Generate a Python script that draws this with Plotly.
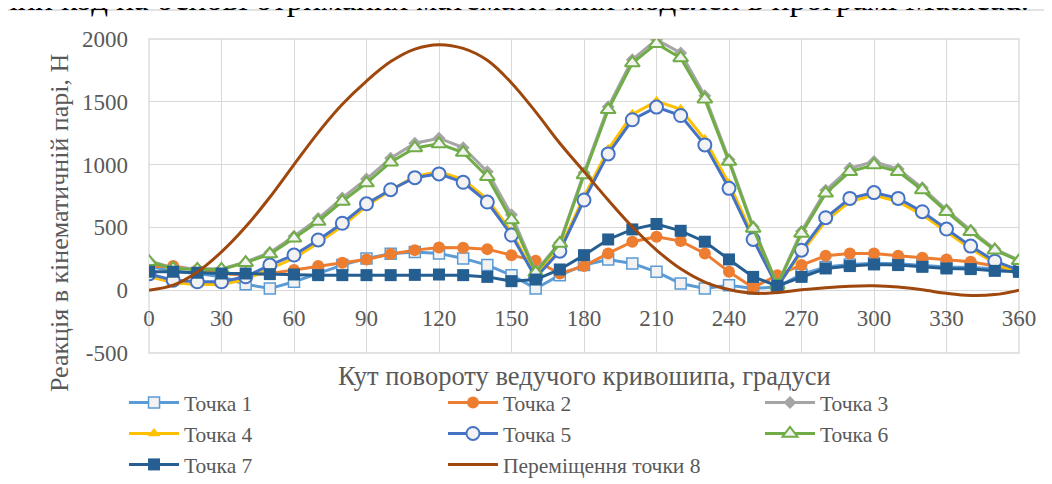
import plotly.graph_objects as go

# кут повороту, градуси
angle = list(range(0, 361, 10))

y_ticks = [-500, 0, 500, 1000, 1500, 2000]
y_labels = ["-500", "0", "500", "1000", "1500", "2000"]

p1 = [190, 150, 133, 107, 48, 13, 67, 133, 200, 253, 290, 305, 293, 253, 200, 120, 13, 120, 200,
      245, 213, 146, 53, 13, 40, 13, 27, 125, 185, 205, 215, 210, 198, 185, 180, 168, 160]
p2 = [187, 192, 160, 133, 120, 133, 160, 192, 219, 245, 288, 319, 340, 338, 327, 279, 234, 133, 192,
      293, 386, 426, 391, 293, 146, 20, 120, 200, 274, 293, 293, 274, 258, 245, 226, 192, 160]
p3 = [235, 178, 170, 170, 225, 300, 430, 570, 735, 885, 1050, 1170, 1210, 1135, 944, 600, 150, 380, 935,
      1460, 1835, 1995, 1889, 1548, 1040, 505, 45, 470, 795, 970, 1025, 965, 815, 640, 478, 328, 240]
p4 = [110, 60, 45, 45, 85, 170, 255, 375, 510, 670, 795, 905, 945, 880, 725, 465, 105, 330, 745,
      1120, 1400, 1505, 1440, 1200, 850, 430, 30, 300, 550, 705, 755, 705, 600, 465, 330, 215, 135]
p5 = [130, 80, 67, 67, 107, 200, 280, 400, 533, 688, 800, 896, 926, 859, 702, 439, 100, 311, 718,
      1085, 1357, 1458, 1391, 1157, 811, 404, 27, 319, 577, 731, 777, 731, 625, 487, 351, 231, 160]
p6 = [227, 173, 165, 165, 219, 288, 413, 547, 707, 853, 1019, 1133, 1165, 1096, 904, 559, 140, 372, 918,
      1436, 1809, 1963, 1849, 1521, 1024, 492, 40, 452, 771, 944, 997, 944, 798, 625, 465, 319, 234]
p7 = [147, 147, 139, 133, 133, 128, 125, 120, 120, 120, 120, 122, 125, 120, 106, 72, 85, 165, 279,
      404, 484, 527, 473, 386, 245, 106, 35, 106, 173, 192, 205, 200, 186, 173, 168, 154, 146]
p8 = [0, 40, 145, 305, 505, 740, 1000, 1255, 1480, 1665, 1820, 1920, 1955, 1925, 1830, 1650, 1420, 1170, 944,
      718, 505, 320, 170, 65, 5, -25, -18, 3, 20, 32, 35, 25, 3, -25, -42, -35, 0]

names = ["Точка 1", "Точка 2", "Точка 3", "Точка 4", "Точка 5", "Точка 6", "Точка 7", "Переміщення точки 8"]

FONT = "Liberation Serif, DejaVu Serif, Times New Roman, serif"
GREY = "#595959"

fig = go.Figure()

def add(y, name, color, marker, legend):
    fig.add_trace(go.Scatter(x=angle, y=y, name=name, mode="lines+markers",
                             line=dict(color=color, width=3), marker=marker, legend=legend))

add(p1, names[0], "#5B9BD5", dict(symbol="square", size=11, color="#F2F2F2", line=dict(color="#5B9BD5", width=1.5)), "legend")
add(p2, names[1], "#ED7D31", dict(symbol="circle", size=12, color="#ED7D31"), "legend2")
add(p3, names[2], "#A5A5A5", dict(symbol="diamond", size=10, color="#A5A5A5"), "legend3")
add(p4, names[3], "#FFC000", dict(symbol="triangle-up", size=11, color="#FFC000"), "legend")
add(p5, names[4], "#4472C4", dict(symbol="circle", size=13, color="#F2F2F2", line=dict(color="#4472C4", width=2)), "legend2")
add(p6, names[5], "#70AD47", dict(symbol="triangle-up", size=13, color="#F2F2F2", line=dict(color="#70AD47", width=2)), "legend3")
add(p7, names[6], "#255E91", dict(symbol="square", size=12, color="#255E91"), "legend")
fig.add_trace(go.Scatter(x=angle, y=p8, name=names[7], mode="lines",
                         line=dict(color="#9E480E", width=3, shape="spline", smoothing=1), legend="legend2"))

leg = dict(orientation="v", yanchor="top", y=-0.0925, bgcolor="rgba(0,0,0,0)",
           font=dict(family=FONT, size=21.5, color=GREY), itemwidth=50, tracegroupgap=0)
fig.update_layout(
    width=1044, height=476,
    margin=dict(l=141, r=33, t=31, b=131, autoexpand=False),
    paper_bgcolor="white", plot_bgcolor="white",
    font=dict(family=FONT, color=GREY),
    legend=dict(leg, x=-0.0287),
    legend2=dict(leg, x=0.3379),
    legend3=dict(leg, x=0.7023),
    xaxis=dict(range=[0, 360], tick0=0, dtick=30, anchor="free", position=0.2,
               showgrid=True, gridcolor="#d9d9d9", gridwidth=1.3, zeroline=False, showline=False,
               tickfont=dict(family=FONT, size=23, color=GREY), ticklabelstandoff=12),
    yaxis=dict(range=[-500, 2000], tickmode="array", tickvals=y_ticks, ticktext=y_labels,
               showgrid=True, gridcolor="#d9d9d9", gridwidth=1.3,
               zeroline=False, tickfont=dict(family=FONT, size=23, color=GREY), ticklabelstandoff=20),
    shapes=[
        dict(type="rect", xref="paper", yref="paper", x0=0, x1=1, y0=0, y1=1,
             line=dict(color="#d9d9d9", width=1.3), layer="below"),
        dict(type="rect", xref="paper", yref="paper", x0=-0.1632, x1=1.047, y0=-0.452, y1=1.0924,
             line=dict(color="#d9d9d9", width=1.5), layer="below"),
    ],
    annotations=[
        dict(text="Кут повороту ведучого кривошипа, градуси", xref="paper", yref="paper",
             x=0.5, y=-0.073, xanchor="center", yanchor="middle", showarrow=False,
             font=dict(family=FONT, size=26.5, color=GREY)),
        dict(text="Реакція в кінематичній парі, Н", xref="paper", yref="paper",
             x=-0.1034, y=0.414, xanchor="center", yanchor="middle", textangle=-90, showarrow=False,
             font=dict(family=FONT, size=26, color=GREY)),
        dict(text="ний код на основі отриманих математичних моделей в програмі Mathcad.",
             xref="paper", yref="paper", x=-0.1736, y=1.128, xanchor="left", yanchor="middle",
             showarrow=False, font=dict(family=FONT, size=33, color="black")),
    ],
)

fig.write_html("out.html")
